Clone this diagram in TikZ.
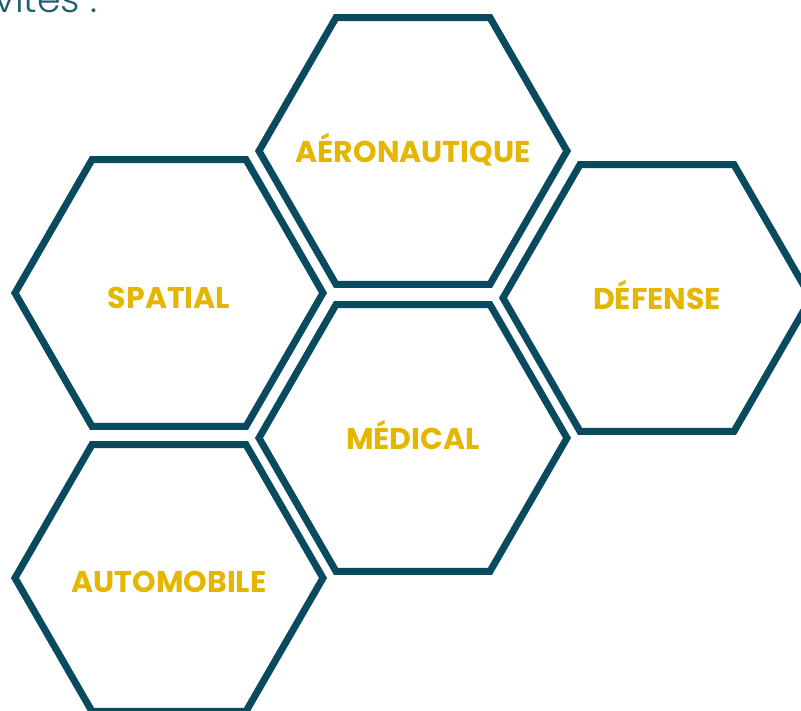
\documentclass[tikz,border=0pt]{standalone}
\usepackage{fontspec}
\setmainfont{Poppins}
\newfontfamily\hexfont{Poppins}[UprightFont=* Bold]
\newfontfamily\thinfont{Poppins}[UprightFont=* Light]
\usetikzlibrary{shapes.geometric}
\definecolor{hexteal}{HTML}{0A4A5F}
\definecolor{hexgold}{HTML}{E4B600}
\definecolor{titleteal}{HTML}{1E5C70}
\tikzset{%
  % Specifications for style of nodes:
        hexbox/.style = {regular polygon, regular polygon sides=6,
                         minimum size=308pt, inner sep=0pt, draw=hexteal,
                         line width=7pt},
      hexlabel/.style = {text=hexgold, inner sep=0pt,
                         font=\hexfont\fontsize{30}{34}\selectfont},
     titletext/.style = {text=titleteal, inner sep=0pt,
                         font=\thinfont\fontsize{38}{44}\selectfont},
}

\begin{document}
\begin{tikzpicture}[node distance=244pt]
  \useasboundingbox (0,0) rectangle (801pt,-711pt);
  % Specification of nodes (position, etc.)
  \node (title)     [titletext, anchor=base east] at (98pt,-13pt) {activités :};

  \node (medical)   [hexbox, label={[hexlabel, yshift=3pt]center:MÉDICAL}] at (413pt,-438pt) {};
  \node (aero)      [hexbox, above of=medical, yshift=43pt,
                     label={[hexlabel, yshift=1pt]center:AÉRONAUTIQUE}] {};
  \node (spatial)   [hexbox, left of=medical, yshift=145pt,
                     label={[hexlabel, yshift=-5pt]center:SPATIAL}] {};
  \node (auto)      [hexbox, left of=medical, yshift=-140pt,
                     label={[hexlabel, yshift=-4pt]center:AUTOMOBILE}] {};
  \node (defense)   [hexbox, right of=medical, yshift=140pt,
                     label={[hexlabel, yshift=3pt]center:DÉFENSE}] {};

\end{tikzpicture}
\end{document}
